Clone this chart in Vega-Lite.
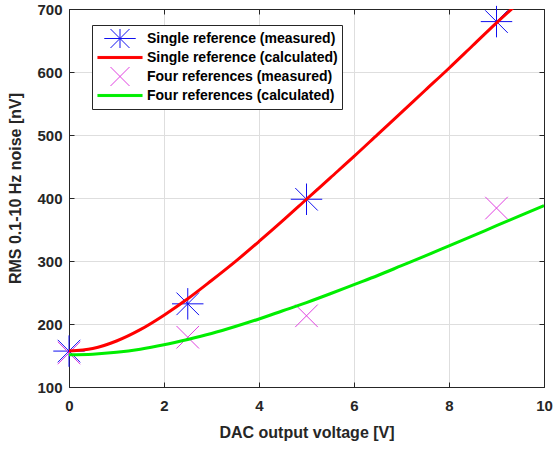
{
  "$schema": "https://vega.github.io/schema/vega-lite/v6.json",
  "width": 475,
  "height": 378,
  "autosize": {"type": "none"},
  "padding": {"left": 69, "top": 9, "right": 11, "bottom": 63},
  "background": "white",
  "config": {
    "font": "Liberation Sans",
    "view": {"stroke": "#262626", "strokeWidth": 1},
    "axis": {
      "domainColor": "#262626",
      "domainWidth": 1,
      "tickColor": "#262626",
      "tickSize": -5,
      "gridColor": "#dedede",
      "gridWidth": 1,
      "labelFlush": false,
      "labelOverlap": false,
      "labelFont": "Liberation Sans",
      "labelFontSize": 15,
      "labelFontWeight": "bold",
      "labelColor": "#262626",
      "titleFont": "Liberation Sans",
      "titleFontSize": 16,
      "titleFontWeight": "bold",
      "titleColor": "#262626"
    },
    "legend": {
      "orient": "none",
      "legendX": 23,
      "legendY": 16,
      "strokeColor": "#262626",
      "fillColor": "white",
      "padding": 4,
      "symbolSize": 121,
      "symbolOffset": 17,
      "symbolStrokeWidth": 1,
      "symbolFillColor": "transparent",
      "labelOffset": 20,
      "labelFont": "Liberation Sans",
      "labelFontSize": 14,
      "labelFontWeight": "bold",
      "labelColor": "black",
      "rowPadding": 0,
      "clipHeight": 19,
      "labelLimit": 400
    }
  },
  "datasets": {
    "measured": [
      {"series": "Single reference (measured)", "voltage": 0, "noise": 157},
      {"series": "Single reference (measured)", "voltage": 2.5, "noise": 232},
      {"series": "Single reference (measured)", "voltage": 5, "noise": 398},
      {"series": "Single reference (measured)", "voltage": 9, "noise": 680},
      {"series": "Four references (measured)", "voltage": 0, "noise": 154},
      {"series": "Four references (measured)", "voltage": 2.5, "noise": 179},
      {"series": "Four references (measured)", "voltage": 5, "noise": 213},
      {"series": "Four references (measured)", "voltage": 9, "noise": 384}
    ],
    "calculated": [
      {"series": "Single reference (calculated)", "voltage": 0, "noise": 157},
      {"series": "Single reference (calculated)", "voltage": 0.5, "noise": 161},
      {"series": "Single reference (calculated)", "voltage": 1, "noise": 173},
      {"series": "Single reference (calculated)", "voltage": 1.5, "noise": 191},
      {"series": "Single reference (calculated)", "voltage": 2, "noise": 214},
      {"series": "Single reference (calculated)", "voltage": 2.5, "noise": 240},
      {"series": "Single reference (calculated)", "voltage": 3, "noise": 269},
      {"series": "Single reference (calculated)", "voltage": 3.5, "noise": 299},
      {"series": "Single reference (calculated)", "voltage": 4, "noise": 331},
      {"series": "Single reference (calculated)", "voltage": 4.5, "noise": 364},
      {"series": "Single reference (calculated)", "voltage": 5, "noise": 398},
      {"series": "Single reference (calculated)", "voltage": 5.5, "noise": 432},
      {"series": "Single reference (calculated)", "voltage": 6, "noise": 466},
      {"series": "Single reference (calculated)", "voltage": 6.5, "noise": 501},
      {"series": "Single reference (calculated)", "voltage": 7, "noise": 536},
      {"series": "Single reference (calculated)", "voltage": 7.5, "noise": 571},
      {"series": "Single reference (calculated)", "voltage": 8, "noise": 606},
      {"series": "Single reference (calculated)", "voltage": 8.5, "noise": 642},
      {"series": "Single reference (calculated)", "voltage": 9, "noise": 678},
      {"series": "Single reference (calculated)", "voltage": 9.35, "noise": 702},
      {"series": "Four references (calculated)", "voltage": 0, "noise": 151},
      {"series": "Four references (calculated)", "voltage": 0.5, "noise": 152},
      {"series": "Four references (calculated)", "voltage": 1, "noise": 155},
      {"series": "Four references (calculated)", "voltage": 1.5, "noise": 160},
      {"series": "Four references (calculated)", "voltage": 2, "noise": 167},
      {"series": "Four references (calculated)", "voltage": 2.5, "noise": 175.5},
      {"series": "Four references (calculated)", "voltage": 3, "noise": 185},
      {"series": "Four references (calculated)", "voltage": 3.5, "noise": 196},
      {"series": "Four references (calculated)", "voltage": 4, "noise": 208},
      {"series": "Four references (calculated)", "voltage": 4.5, "noise": 221},
      {"series": "Four references (calculated)", "voltage": 5, "noise": 234},
      {"series": "Four references (calculated)", "voltage": 5.5, "noise": 248},
      {"series": "Four references (calculated)", "voltage": 6, "noise": 262.5},
      {"series": "Four references (calculated)", "voltage": 6.5, "noise": 277},
      {"series": "Four references (calculated)", "voltage": 7, "noise": 292.5},
      {"series": "Four references (calculated)", "voltage": 7.5, "noise": 308},
      {"series": "Four references (calculated)", "voltage": 8, "noise": 324},
      {"series": "Four references (calculated)", "voltage": 8.5, "noise": 340},
      {"series": "Four references (calculated)", "voltage": 9, "noise": 356},
      {"series": "Four references (calculated)", "voltage": 9.5, "noise": 372},
      {"series": "Four references (calculated)", "voltage": 10, "noise": 388}
    ]
  },
  "layer": [
    {
      "data": {"name": "measured"},
      "mark": {"type": "point", "filled": false, "size": 121, "opacity": 1, "strokeWidth": 1},
      "encoding": {
        "x": {
          "field": "voltage", "type": "quantitative",
          "scale": {"domain": [0, 10], "nice": false},
          "axis": {"orient": "bottom", "title": "DAC output voltage [V]", "values": [0, 2, 4, 6, 8, 10], "labelPadding": 16, "titleY": 50, "titleBaseline": "alphabetic", "grid": true}
        },
        "y": {
          "field": "noise", "type": "quantitative",
          "scale": {"domain": [100, 700], "nice": false, "zero": false},
          "axis": {"orient": "left", "title": "RMS 0.1-10 Hz noise [nV]", "values": [100, 200, 300, 400, 500, 600, 700], "labelPadding": 12, "titleX": -54, "titleY": 179, "titleAngle": -90, "titleAlign": "center", "titleBaseline": "middle", "grid": true}
        },
        "color": {
          "field": "series", "type": "nominal",
          "scale": {
            "domain": ["Single reference (measured)", "Single reference (calculated)", "Four references (measured)", "Four references (calculated)"],
            "range": ["#1010f0", "#ff0000", "#e040e0", "#00ee00"]
          },
          "legend": {"title": null}
        },
        "shape": {
          "field": "series", "type": "nominal",
          "scale": {
            "domain": ["Single reference (measured)", "Single reference (calculated)", "Four references (measured)", "Four references (calculated)"],
            "range": ["M-2.86,0L2.86,0M0,-2.86L0,2.86M-2.05,-2.05L2.05,2.05M-2.05,2.05L2.05,-2.05", "M-4.1,-0.19L4.1,-0.19M-4.1,0L4.1,0M-4.1,0.19L4.1,0.19", "M-2.05,-2.05L2.05,2.05M-2.05,2.05L2.05,-2.05", "M-4.1,-0.19L4.1,-0.19M-4.1,0L4.1,0M-4.1,0.19L4.1,0.19"]
          },
          "legend": {"title": null}
        }
      }
    },
    {
      "data": {"name": "calculated"},
      "mark": {"type": "line", "clip": true, "interpolate": "monotone", "strokeWidth": 3},
      "encoding": {
        "x": {
          "field": "voltage", "type": "quantitative",
          "scale": {"domain": [0, 10], "nice": false},
          "axis": {"orient": "top", "title": null, "labels": false, "grid": false, "values": [0, 2, 4, 6, 8, 10]}
        },
        "y": {
          "field": "noise", "type": "quantitative",
          "scale": {"domain": [100, 700], "nice": false, "zero": false},
          "axis": {"orient": "right", "title": null, "labels": false, "grid": false, "values": [100, 200, 300, 400, 500, 600, 700]}
        },
        "color": {
          "field": "series", "type": "nominal",
          "scale": {
            "domain": ["Single reference (measured)", "Single reference (calculated)", "Four references (measured)", "Four references (calculated)"],
            "range": ["#1010f0", "#ff0000", "#e040e0", "#00ee00"]
          },
          "legend": {"title": null}
        }
      }
    }
  ],
  "resolve": {"axis": {"x": "independent", "y": "independent"}}
}
